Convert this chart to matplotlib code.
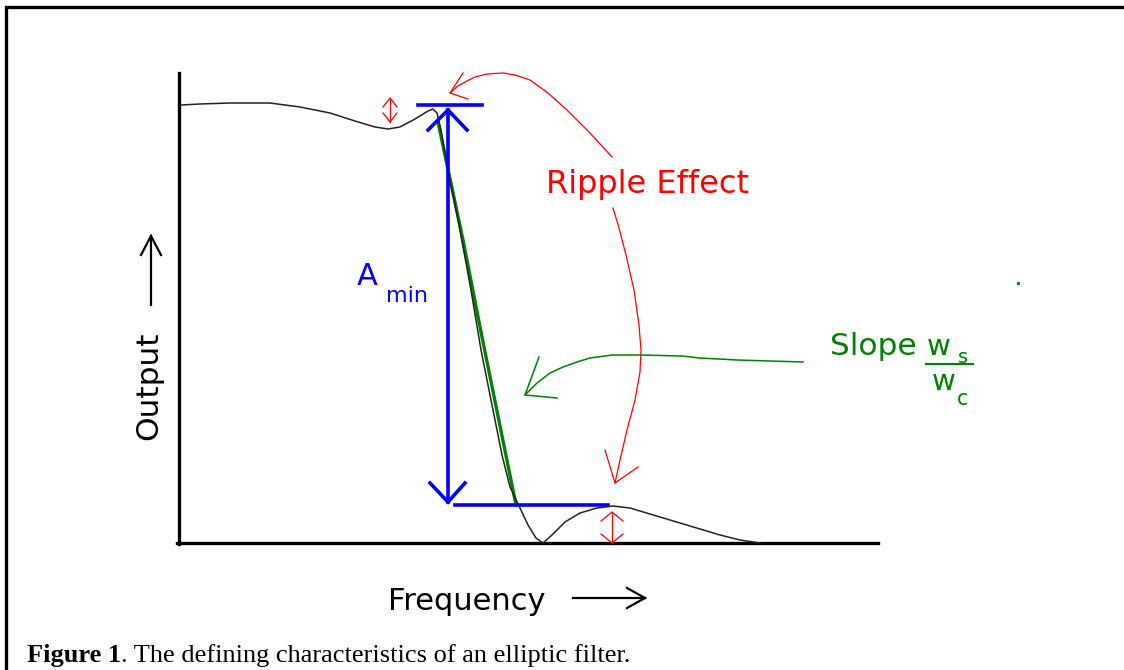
import numpy as np
import matplotlib.pyplot as plt

# Canvas in image pixels, y pointing down
W, H = 1124, 670

# Frame (left and top rule of the figure box)
frame_x = [6, 6, 1124]
frame_y = [670, 7, 7]

# Axes of the sketch
yaxis_x = [179, 179]
yaxis_y = [73, 544]
xaxis_x = [177, 878]
xaxis_y = [543, 543]

# Elliptic filter response (hand drawn)
curve_x = [181, 200, 230, 270, 300, 330, 355, 375, 388, 400, 415, 428, 433,
           437, 441, 448, 459, 471, 481, 493, 502, 510, 520, 528, 536, 543,
           552, 565, 580, 597, 613, 630, 650, 670, 700, 720, 740, 760]
curve_y = [105, 104, 103, 103, 107, 113, 121, 127, 129, 127, 119, 111, 109,
           113, 130, 170, 225, 290, 350, 410, 455, 487, 508, 525, 538, 543,
           535, 522, 513, 508, 506, 508, 514, 520, 529, 535, 540, 543]

# Slope line
slope_x = [438, 463, 482, 516]
slope_y = [122, 240, 337, 505]

# A_min marker
amin_top_x = [418, 482]
amin_top_y = [105, 105]
amin_bot_x = [455, 608]
amin_bot_y = [505, 505]
amin_x = [448, 448]
amin_y = [110, 502]
amin_heads = [((428, 130), (448, 110), (467, 130)),
              ((430, 483), (448, 502), (465, 483))]

# Ripple arrows (red)
rip1_x = [612, 590, 567, 548, 530, 515, 503, 487, 475, 467, 458, 450]
rip1_y = [157, 133, 110, 93, 80, 75, 73, 74, 77, 81, 86, 93]
rip1_head = ((463, 73), (450, 93), (468, 99))
rip2_x = [613, 619, 626, 634, 639, 641, 640, 635, 627, 620, 615]
rip2_y = [208, 228, 255, 290, 325, 350, 372, 400, 430, 460, 483]
rip2_head = ((605, 450), (615, 483), (638, 467))

# Ripple height double arrows: x, y_top, y_bottom, half width, head length
dbl_x = [390, 612]
dbl_top = [98, 512]
dbl_bot = [122, 543]
dbl_hw = [7, 11]
dbl_hl = [9, 9]

# Slope arrow (green)
slp_x = [803, 770, 737, 700, 682, 640, 612, 590, 577, 563, 550, 537, 525]
slp_y = [362, 361, 360, 358, 356, 355, 355, 358, 362, 367, 373, 383, 395]
slp_head = ((539, 357), (525, 395), (557, 398))

# Axis label arrows
out_arrow_x = [151, 151]
out_arrow_y = [305, 236]
out_head = ((141, 255), (151, 236), (161, 255))
freq_arrow_x = [573, 645]
freq_arrow_y = [598, 598]
freq_head = ((627, 588), (645, 598), (627, 608))

RED = '#ff0000'
BLUE = '#0000ff'
GREEN = '#008000'

fig = plt.figure(figsize=(W / 100, H / 100), dpi=100)
ax = fig.add_axes([0, 0, 1, 1])
ax.set_xlim(0, W)
ax.set_ylim(H, 0)
ax.axis('off')


def vhead(pts, color, lw):
    xs = [p[0] for p in pts]
    ys = [p[1] for p in pts]
    ax.plot(xs, ys, color=color, lw=lw, solid_joinstyle='miter')


ax.plot(frame_x, frame_y, color='black', lw=2.4, solid_joinstyle='miter')

ax.plot(yaxis_x, yaxis_y, color='black', lw=2.4)
ax.plot(xaxis_x, xaxis_y, color='black', lw=2.4)

ax.plot(slope_x, slope_y, color=GREEN, lw=2.4)
ax.plot(curve_x, curve_y, color='#222222', lw=1.1)

ax.plot(amin_top_x, amin_top_y, color=BLUE, lw=2.6)
ax.plot(amin_bot_x, amin_bot_y, color=BLUE, lw=2.6)
ax.plot(amin_x, amin_y, color=BLUE, lw=2.6)
for h in amin_heads:
    vhead(h, BLUE, 2.6)

ax.plot(rip1_x, rip1_y, color=RED, lw=0.9)
vhead(rip1_head, RED, 0.9)
ax.plot(rip2_x, rip2_y, color=RED, lw=0.9)
vhead(rip2_head, RED, 0.9)

for x, t, b, hw, hl in zip(dbl_x, dbl_top, dbl_bot, dbl_hw, dbl_hl):
    ax.plot([x, x], [t, b], color=RED, lw=0.9)
    vhead(((x - hw, t + hl), (x, t), (x + hw, t + hl)), RED, 0.9)
    vhead(((x - hw, b - hl), (x, b), (x + hw, b - hl)), RED, 0.9)

ax.plot(slp_x, slp_y, color=GREEN, lw=1.1)
vhead(slp_head, GREEN, 1.1)
ax.plot([1018], [283], marker='s', ms=1.2, color=GREEN)

ax.plot(out_arrow_x, out_arrow_y, color='black', lw=1.6)
vhead(out_head, 'black', 1.6)
ax.plot(freq_arrow_x, freq_arrow_y, color='black', lw=1.6)
vhead(freq_head, 'black', 1.6)

# Texts
sans = 'DejaVu Sans'
ax.text(546, 193, 'Ripple Effect', color=RED, fontsize=23, family=sans,
        ha='left', va='baseline')
ax.text(357, 285, 'A', color=BLUE, fontsize=22, family=sans,
        ha='left', va='baseline')
ax.text(386, 302, 'min', color=BLUE, fontsize=16, family=sans,
        ha='left', va='baseline')

ax.text(830, 355, 'Slope', color=GREEN, fontsize=22.5, family=sans,
        ha='left', va='baseline')
ax.text(927, 355, 'w', color=GREEN, fontsize=21, family=sans,
        ha='left', va='baseline')
ax.text(958, 363, 's', color=GREEN, fontsize=14, family=sans,
        ha='left', va='baseline')
ax.plot([926, 973], [364, 364], color=GREEN, lw=1.5)
ax.text(932, 390, 'w', color=GREEN, fontsize=21, family=sans,
        ha='left', va='baseline')
ax.text(957, 405, 'c', color=GREEN, fontsize=15, family=sans,
        ha='left', va='baseline')

ax.text(157, 440, 'Output', color='black', fontsize=22.5, family=sans,
        rotation=90, ha='left', va='baseline', rotation_mode='anchor')
ax.text(388, 610, 'Frequency', color='black', fontsize=22, family=sans,
        ha='left', va='baseline')

# Caption
serif = 'Liberation Serif'
t1 = ax.text(27, 662, 'Figure 1', fontsize=19, family=serif,
             fontweight='bold', ha='left', va='baseline')
ax.annotate('. The defining characteristics of an elliptic filter.',
            xy=(1, 0), xycoords=t1, fontsize=19, family=serif,
            ha='left', va='bottom')

fig.savefig('out.png', dpi=100)
